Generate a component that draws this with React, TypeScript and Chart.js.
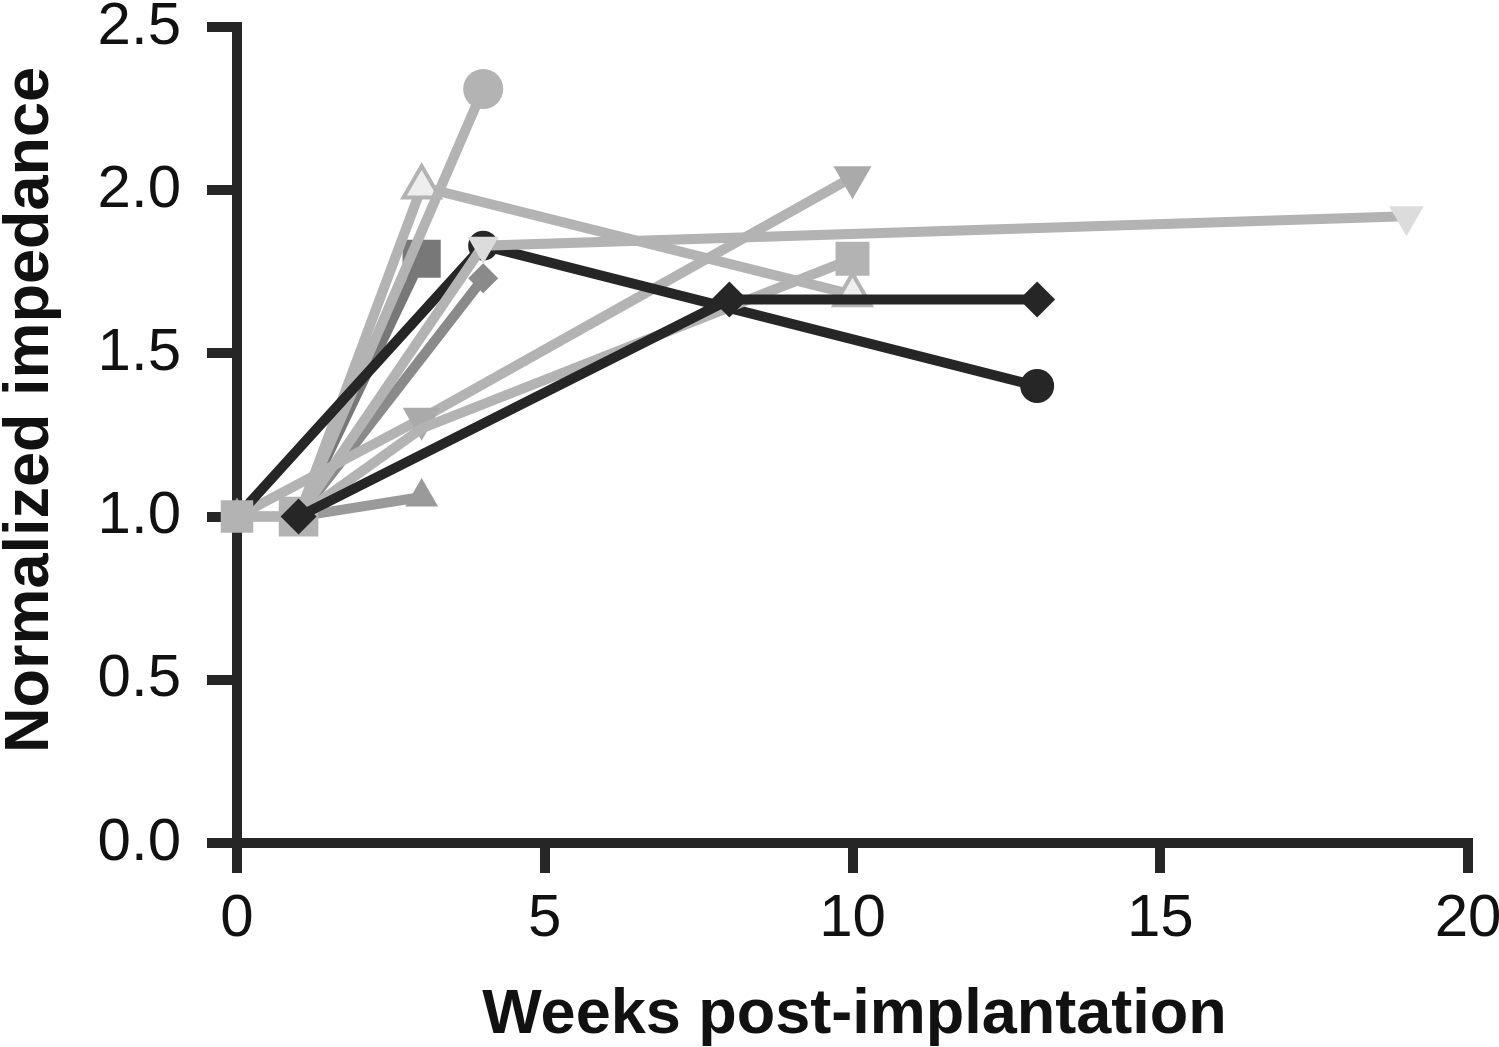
import React, { useEffect, useRef } from "react";
import { Chart, registerables } from "chart.js";

Chart.register(...registerables);

// ---- data (weeks, normalized impedance) ----
const blackDiamond = [{ x: 1, y: 1.0 }, { x: 8, y: 1.665 }, { x: 13, y: 1.665 }];
const blackCircle = [{ x: 0, y: 1.0 }, { x: 4, y: 1.83 }, { x: 13, y: 1.40 }];
const lightInvTriangle = [{ x: 1, y: 1.0 }, { x: 4, y: 1.83 }, { x: 19, y: 1.92 }];
const lightCircle = [{ x: 1, y: 1.0 }, { x: 4, y: 2.31 }];
const openTriangle = [{ x: 1, y: 1.0 }, { x: 3, y: 2.01 }, { x: 10, y: 1.68 }];
const lightSquare = [{ x: 0, y: 1.0 }, { x: 1, y: 1.0 }, { x: 3, y: 1.27 }, { x: 10, y: 1.79 }];
const grayInvTriangle = [{ x: 0, y: 1.0 }, { x: 3, y: 1.30 }, { x: 10, y: 2.04 }];
const darkSquare = [{ x: 1, y: 1.0 }, { x: 3, y: 1.79 }];
const grayDiamond = [{ x: 1, y: 1.0 }, { x: 4, y: 1.73 }];
const grayTriangle = [{ x: 0, y: 1.0 }, { x: 1, y: 1.0 }, { x: 3, y: 1.06 }];

const xTicks = [0, 5, 10, 15, 20];
const yTicks = [0, 0.5, 1.0, 1.5, 2.0, 2.5];
const xTitle = "Weeks post-implantation";
const yTitle = "Normalized impedance";

const FONT = "'Liberation Sans', Arial, Helvetica, sans-serif";
const AXIS = "#262626";

function ds(data: any[], color: string, style: string, radius: any, extra: any = {}) {
  return {
    data,
    borderColor: color,
    backgroundColor: color,
    borderWidth: 10,
    pointStyle: style,
    pointRadius: radius,
    pointBackgroundColor: color,
    pointBorderWidth: 0,
    pointBorderColor: color,
    pointHoverRadius: radius,
    clip: false,
    tension: 0,
    ...extra,
  };
}

const axisTitles = {
  id: "axisTitles",
  afterDraw(chart: any) {
    const { ctx, chartArea } = chart;
    ctx.save();
    ctx.fillStyle = "#111111";
    ctx.font = `bold 63px ${FONT}`;
    ctx.textAlign = "center";
    ctx.textBaseline = "alphabetic";
    ctx.fillText(xTitle, (chartArea.left + chartArea.right) / 2 + 2, 1033);
    ctx.translate(48, 410);
    ctx.rotate(-Math.PI / 2);
    ctx.fillText(yTitle, 0, 0);
    ctx.restore();
  },
};

export default function App() {
  const ref = useRef<HTMLCanvasElement | null>(null);

  useEffect(() => {
    if (!ref.current) return;
    const chart = new Chart(ref.current, {
      type: "line",
      data: {
        datasets: [
          ds(blackDiamond, AXIS, "rectRot", 18),
          ds(lightInvTriangle, "#b3b3b3", "triangle", [0, 18, 20], {
            pointBackgroundColor: "#dcdcdc",
            pointRotation: 180,
          }),
          ds(lightSquare, "#b3b3b3", "rect", [23, 28, 0, 24]),
          ds(blackCircle, AXIS, "circle", [0, 15, 17]),
          ds(lightCircle, "#b3b3b3", "circle", [0, 20]),
          ds(openTriangle, "#b3b3b3", "triangle", [0, 21, 21], {
            pointBackgroundColor: "#eeeeee",
            pointBorderWidth: 4,
            pointBorderColor: "#b3b3b3",
          }),
          ds(grayInvTriangle, "#b3b3b3", "triangle", [0, 22, 22], {
            pointBackgroundColor: "#aaaaaa",
            pointRotation: 180,
          }),
          ds(darkSquare, "#787878", "rect", [0, 27]),
          ds(grayDiamond, "#8a8a8a", "rectRot", [0, 15]),
          ds(grayTriangle, "#9a9a9a", "triangle", [19, 0, 19]),
        ] as any,
      },
      options: {
        animation: false,
        responsive: true,
        maintainAspectRatio: false,
        layout: { padding: { top: 22, right: 31, left: 0, bottom: 0 } },
        plugins: { legend: { display: false }, tooltip: { enabled: false } },
        scales: {
          x: {
            type: "linear",
            min: 0,
            max: 20,
            afterBuildTicks: (s: any) => {
              s.ticks = xTicks.map((v) => ({ value: v }));
            },
            afterFit: (s: any) => {
              s.height = 204;
              s.paddingLeft = 0;
              s.paddingRight = 0;
            },
            ticks: {
              font: { family: FONT, size: 60 },
              color: "#111111",
              padding: 10,
              maxRotation: 0,
              autoSkip: false,
            },
            grid: {
              drawOnChartArea: false,
              drawTicks: true,
              tickLength: 30,
              lineWidth: 10,
              color: AXIS,
            },
            border: { display: true, width: 10, color: AXIS },
            title: { display: false },
          },
          y: {
            type: "linear",
            min: 0,
            max: 2.5,
            afterBuildTicks: (s: any) => {
              s.ticks = yTicks.map((v) => ({ value: v }));
            },
            afterFit: (s: any) => {
              s.width = 237;
              s.paddingTop = 0;
              s.paddingBottom = 0;
            },
            ticks: {
              font: { family: FONT, size: 60 },
              color: "#111111",
              padding: 26,
              callback: (v: any) => Number(v).toFixed(1),
              autoSkip: false,
            },
            grid: {
              drawOnChartArea: false,
              drawTicks: true,
              tickLength: 30,
              lineWidth: 10,
              color: AXIS,
            },
            border: { display: true, width: 10, color: AXIS },
            title: { display: false },
          },
        },
      } as any,
      plugins: [axisTitles],
    });
    return () => chart.destroy();
  }, []);

  return (
    <div style={{ position: "fixed", left: 0, top: 0, width: 1499, height: 1047, background: "#ffffff" }}>
      <canvas ref={ref} />
    </div>
  );
}
